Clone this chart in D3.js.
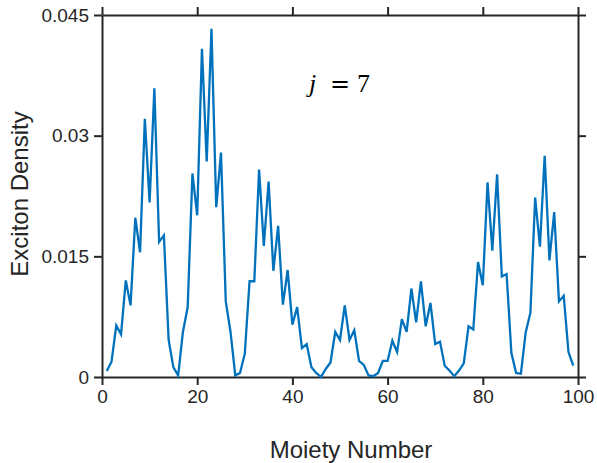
<!DOCTYPE html>
<html>
<head>
<meta charset="utf-8">
<script src="https://cdn.jsdelivr.net/npm/d3@7"></script>
<style>
  body { margin: 0; background: #fff; }
  svg { display: block; }
</style>
</head>
<body>
<svg id="chart" width="597" height="463"></svg>
<script>
'use strict';

// moiety index 1..99
var moiety = d3.range(1, 100);

var density = [
  0.00075, 0.0019, 0.0064, 0.0053, 0.0120, 0.0089, 0.0198, 0.0155, 0.0321, 0.0217,
  0.0359, 0.0168, 0.0176, 0.0046, 0.0012, 0.0002, 0.0056, 0.0087, 0.0253, 0.0201,
  0.0408, 0.0268, 0.0433, 0.0211, 0.0279, 0.0094, 0.0056, 0.0002, 0.0005, 0.0029,
  0.0119, 0.0119, 0.0258, 0.0163, 0.0243, 0.0132, 0.0188, 0.0090, 0.0133, 0.0065,
  0.0087, 0.0036, 0.0041, 0.0012, 0.0005, 0.0000, 0.0010, 0.0018, 0.0056, 0.0046,
  0.0089, 0.0046, 0.0058, 0.0020, 0.0015, 0.0002, 0.0001, 0.0005, 0.0020, 0.0020,
  0.0045, 0.0031, 0.0072, 0.0056, 0.0110, 0.0068, 0.0119, 0.0063, 0.0092, 0.0041,
  0.0044, 0.0014, 0.0008, 0.0001, 0.0008, 0.0017, 0.0063, 0.0059, 0.0143, 0.0114,
  0.0242, 0.0157, 0.0252, 0.0125, 0.0128, 0.0030, 0.0005, 0.0004, 0.0055, 0.0080,
  0.0223, 0.0162, 0.0275, 0.0145, 0.0205, 0.0094, 0.0101, 0.0031, 0.0014
];

var xTicks = [0, 20, 40, 60, 80, 100];
var yTicks = [0, 0.015, 0.03, 0.045];
var yTickLabels = ["0", "0.015", "0.03", "0.045"];

window.onload = function() {
   var axisColor = "#262626";
   var lineColor = "#0072BD";
   var fontSans = "'Liberation Sans', Arial, Helvetica, sans-serif";

   var plotLeft = 102, plotRight = 578, plotTop = 15, plotBottom = 377;

   var svg = d3.select("#chart");

   var x = d3.scaleLinear().domain([0, 100]).range([plotLeft, plotRight]);
   var y = d3.scaleLinear().domain([0, 0.045]).range([plotBottom, plotTop]);

   function styleAxis(g) {
      g.select(".domain").attr("stroke", axisColor).attr("stroke-width", 2);
      g.selectAll(".tick line").attr("stroke", axisColor).attr("stroke-width", 2);
      g.selectAll(".tick text")
      .attr("fill", axisColor)
      .style("font-family", fontSans)
      .style("font-size", "19px");
   }

   //bottom axis with labels
   svg.append("g")
   .attr("transform", "translate(0," + plotBottom + ")")
   .call(d3.axisBottom(x).tickValues(xTicks).tickSize(8).tickPadding(5).tickSizeOuter(0))
   .call(styleAxis);

   //left axis with labels
   svg.append("g")
   .attr("transform", "translate(" + plotLeft + ",0)")
   .call(d3.axisLeft(y).tickValues(yTicks).tickSize(8).tickPadding(5).tickSizeOuter(0)
      .tickFormat(function(d, i) { return yTickLabels[i]; }))
   .call(styleAxis);

   //top and right axes, ticks only (box on)
   svg.append("g")
   .attr("transform", "translate(0," + plotTop + ")")
   .call(d3.axisTop(x).tickValues(xTicks).tickSize(8).tickSizeOuter(0).tickFormat(""))
   .call(styleAxis);

   svg.append("g")
   .attr("transform", "translate(" + plotRight + ",0)")
   .call(d3.axisRight(y).tickValues(yTicks).tickSize(8).tickSizeOuter(0).tickFormat(""))
   .call(styleAxis);

   //the density curve
   var line = d3.line()
   .x(function(d, i) { return x(moiety[i]); })
   .y(function(d) { return y(d); });

   svg.append("path")
   .datum(density)
   .attr("d", line)
   .attr("fill", "none")
   .attr("stroke", lineColor)
   .attr("stroke-width", 2.3)
   .attr("stroke-linejoin", "miter");

   //axis titles
   svg.append("text")
   .attr("x", 351)
   .attr("y", 458)
   .attr("text-anchor", "middle")
   .attr("fill", axisColor)
   .style("font-family", fontSans)
   .style("font-size", "24px")
   .text("Moiety Number");

   svg.append("text")
   .attr("transform", "translate(28," + ((plotTop + plotBottom) / 2 - 2) + ") rotate(-90)")
   .attr("text-anchor", "middle")
   .attr("fill", axisColor)
   .style("font-family", fontSans)
   .style("font-size", "24px")
   .text("Exciton Density");

   //annotation j = 7 (spaced like LaTeX math)
   var ann = svg.append("text")
   .attr("y", 92)
   .attr("fill", "#000")
   .style("font-family", "'Liberation Serif', 'DejaVu Serif', serif")
   .style("font-size", "26px");
   ann.append("tspan").attr("x", 309).style("font-style", "italic").text("j");
   ann.append("tspan").attr("x", 330).style("font-family", "'DejaVu Serif', serif")
   .style("font-size", "24px").text("=");
   ann.append("tspan").attr("x", 357).text("7");
};
</script>
</body>
</html>
